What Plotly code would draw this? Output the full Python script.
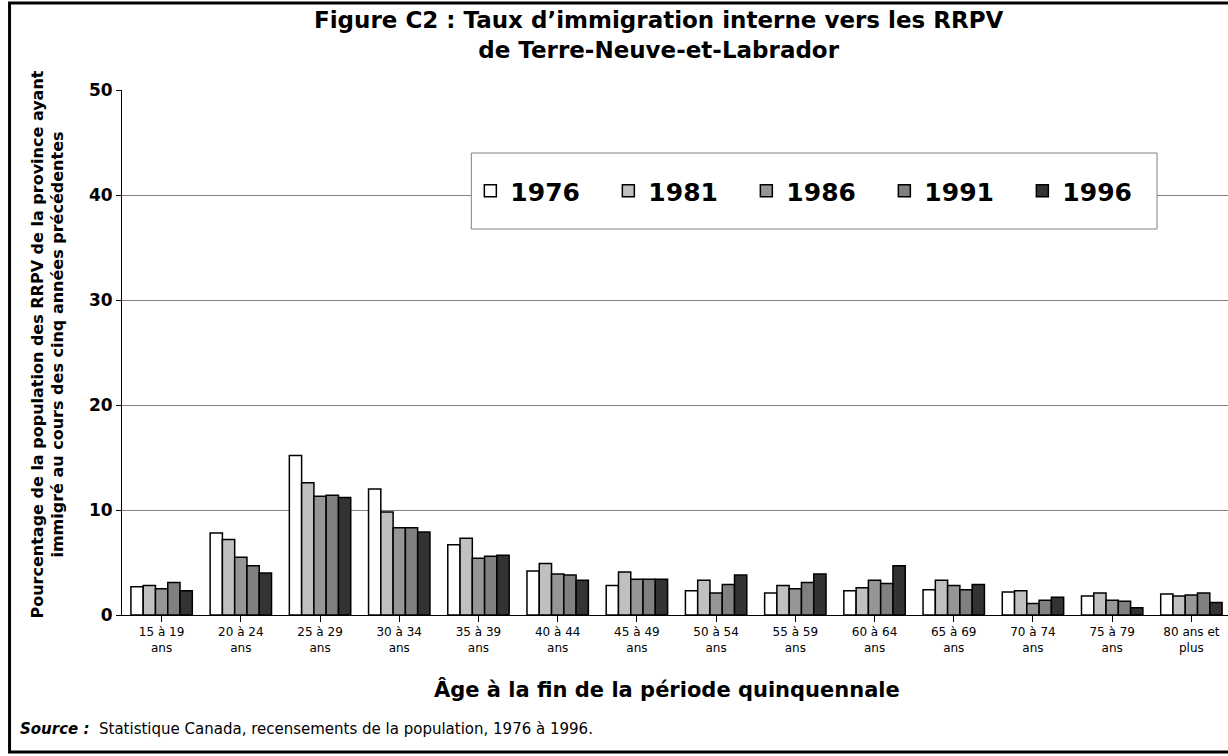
import plotly.graph_objects as go

ages = ["15 à 19<br>ans", "20 à 24<br>ans", "25 à 29<br>ans", "30 à 34<br>ans", "35 à 39<br>ans",
        "40 à 44<br>ans", "45 à 49<br>ans", "50 à 54<br>ans", "55 à 59<br>ans", "60 à 64<br>ans",
        "65 à 69<br>ans", "70 à 74<br>ans", "75 à 79<br>ans", "80 ans et<br>plus"]
years = ["1976", "1981", "1986", "1991", "1996"]
v1976 = [2.7, 7.8, 15.2, 12.0, 6.7, 4.2, 2.8, 2.3, 2.1, 2.3, 2.4, 2.2, 1.8, 2.0]
v1981 = [2.8, 7.2, 12.6, 9.8, 7.3, 4.9, 4.1, 3.3, 2.8, 2.6, 3.3, 2.3, 2.1, 1.8]
v1986 = [2.5, 5.5, 11.3, 8.3, 5.4, 3.9, 3.4, 2.1, 2.5, 3.3, 2.8, 1.1, 1.4, 1.9]
v1991 = [3.1, 4.7, 11.4, 8.3, 5.6, 3.8, 3.4, 2.9, 3.1, 3.0, 2.4, 1.4, 1.3, 2.1]
v1996 = [2.3, 4.0, 11.2, 7.9, 5.7, 3.3, 3.4, 3.8, 3.9, 4.7, 2.9, 1.7, 0.7, 1.2]
series = [v1976, v1981, v1986, v1991, v1996]
colors = ["#ffffff", "#c0c0c0", "#969696", "#808080", "#333333"]

FONT = "DejaVu Sans, Liberation Sans, Arial, sans-serif"
W, H = 1228, 756
L, T, B, R = 121.5, 90, 141, 0
pw, ph = W - L - R, H - T - B
CAT_W = 79.25          # pixel width of one age category
Y_PX = ph / 50.0       # pixels per percentage point

def px_x(px):
    return (px - L) / pw

def px_y(py):
    return (H - B - py) / ph

def dx(px):
    return -0.5 + (px - L) / CAT_W

def dy(py):
    return (H - B - py) / Y_PX

fig = go.Figure()
for name, vals, col in zip(years, series, colors):
    fig.add_trace(go.Bar(
        x=list(range(len(ages))), y=vals, name=name,
        marker=dict(color=col, line=dict(color="#000000", width=1.5)),
    ))

fig.update_layout(
    width=W, height=H,
    margin=dict(l=L, r=R, t=T, b=B),
    paper_bgcolor="white", plot_bgcolor="white",
    barmode="group", bargap=0.225, bargroupgap=0,
    font=dict(family=FONT, color="black"),
    showlegend=True,
    legend=dict(
        orientation="h", x=px_x(470), y=px_y(191), xanchor="left", yanchor="middle",
        bgcolor="rgba(0,0,0,0)", borderwidth=0,
        font=dict(size=25, family=FONT, color="black", weight="bold"),
        entrywidth=93, entrywidthmode="pixels",
        traceorder="normal",
    ),
    xaxis=dict(
        tickmode="array", tickvals=list(range(len(ages))), ticktext=ages,
        range=[-0.5, -0.5 + pw / CAT_W],
        ticks="outside", tickson="boundaries", ticklen=6, tickcolor="black",
        showline=True, linecolor="black", linewidth=1,
        showgrid=False, zeroline=False,
        tickfont=dict(size=12, family=FONT, color="black"),
    ),
    yaxis=dict(
        range=[0, 50], dtick=10, tick0=0,
        ticks="outside", ticklen=5, tickcolor="black",
        showline=True, linecolor="black", linewidth=1,
        showgrid=True, gridcolor="#808080", gridwidth=1,
        zeroline=False,
        tickfont=dict(size=17, family=FONT, color="black", weight="bold"),
    ),
    annotations=[
        dict(text="<b>Figure C2 : Taux d’immigration interne vers les RRPV<br>de Terre-Neuve-et-Labrador</b>",
             xref="paper", yref="paper", x=px_x(658), y=px_y(35), xanchor="center", yanchor="middle",
             showarrow=False, font=dict(size=23, family=FONT, color="black")),
        dict(text="<b>Pourcentage de la population des RRPV de la province ayant<br>immigré au cours des cinq années précédentes</b>",
             xref="paper", yref="paper", x=px_x(47), y=px_y(345), xanchor="center", yanchor="middle",
             textangle=-90, showarrow=False, font=dict(size=16, family=FONT, color="black")),
        dict(text="<b>Âge à la fin de la période quinquennale</b>",
             xref="paper", yref="paper", x=px_x(667), y=px_y(689), xanchor="center", yanchor="middle",
             showarrow=False, font=dict(size=21, family=FONT, color="black")),
        dict(text="<b><i>Source :</i></b>  Statistique Canada, recensements de la population, 1976 à 1996.",
             xref="paper", yref="paper", x=px_x(17), y=px_y(729), xanchor="left", yanchor="middle",
             showarrow=False, font=dict(size=15, family=FONT, color="black")),
    ],
    shapes=[
        # legend box (white, covers the gridline behind it)
        dict(type="rect", xref="x", yref="y", layer="between",
             x0=dx(471), x1=dx(1157), y0=dy(229), y1=dy(153),
             line=dict(color="#808080", width=1), fillcolor="white"),
        # outer frame
        dict(type="rect", xref="paper", yref="paper",
             x0=px_x(9), x1=px_x(1232), y0=px_y(752), y1=px_y(3),
             line=dict(color="black", width=3), fillcolor="rgba(0,0,0,0)", layer="above"),
    ],
)

fig.write_html("out.html", config={"displayModeBar": False},
               post_script="document.body.style.margin='0';document.body.style.padding='0';")
